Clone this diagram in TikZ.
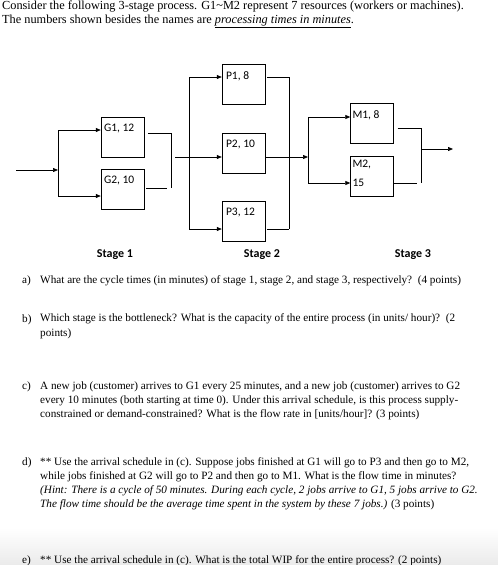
\documentclass[tikz,border=0pt]{standalone}
\usepackage{fontspec}
\setmainfont{Liberation Serif}
\newfontfamily\calibri{Carlito}
\usetikzlibrary{arrows.meta}

\begin{document}
\begin{tikzpicture}[x=1pt,y=-1pt]
	\tikzstyle{box}=[draw, minimum width=43pt, minimum height=40pt, inner sep=0pt]
	\tikzstyle{lbl}=[anchor=north west, inner sep=0pt, align=left, font=\calibri\fontsize{11.5}{19}\selectfont]
	\tikzstyle{stage}=[anchor=base, inner sep=0pt, font=\calibri\bfseries\fontsize{12}{14}\selectfont]
	\tikzstyle{wire}=[draw, line width=0.7pt]
	\tikzstyle{arr}=[wire, -{Triangle[length=5pt,width=4pt]}]
	% anchor base = baseline of the last line
	\tikzstyle{para}=[anchor=base west, inner sep=0pt, align=left, font=\fontsize{11.2}{14.3}\selectfont]
	\tikzstyle{qlbl}=[anchor=base west, inner sep=0pt, font=\fontsize{11.2}{14.3}\selectfont]
	
	\useasboundingbox (0,0) rectangle (498,565);
	\shade[top color=white, bottom color=black!8] (0,528) rectangle (498,565);
	
	% text
	\node[para, font=\fontsize{12.3}{14}\selectfont] (intro) at (2,23) {Consider the following 3-stage process. G1\textasciitilde M2 represent 7 resources (workers or machines).\\
		The numbers shown besides the names are \underline{\textit{processing times in minutes}}.};
	
	% resources
	\node[box] (g1) at (122.5,137) {};
	\node[box] (g2) at (122.5,189.5) {};
	\node[box] (p1) at (243.5,84) {};
	\node[box] (p2) at (243.5,153) {};
	\node[box] (p3) at (243.5,221.5) {};
	\node[box] (m1) at (372,123.5) {};
	\node[box] (m2) at (372,176) {};
	\node[lbl] (g1l) at ([shift={(3pt,-7pt)}]g1.north west) {G1, 12};
	\node[lbl] (g2l) at ([shift={(3pt,-7pt)}]g2.north west) {G2, 10};
	\node[lbl] (p1l) at ([shift={(4pt,-8pt)}]p1.north west) {P1, 8};
	\node[lbl] (p2l) at ([shift={(4pt,-7pt)}]p2.north west) {P2, 10};
	\node[lbl] (p3l) at ([shift={(4pt,-7pt)}]p3.north west) {P3, 12};
	\node[lbl] (m1l) at ([shift={(2pt,-7.5pt)}]m1.north west) {M1, 8};
	\node[lbl] (m2l) at ([shift={(2pt,-4pt)}]m2.north west) {M2,\\15};
	
	% stage 1
	\coordinate (in) at (16,170);
	\coordinate (j1) at (58,170);
	\draw[arr] (in) -- (j1);
	\draw[arr] (j1) |- ([yshift=7pt]g1.west);
	\draw[arr] (j1) |- ([yshift=-6.5pt]g2.west);
	\coordinate (c1) at (171,188);
	\coordinate (c1b) at (167,188);
	\draw[wire] ([shift={(4pt,4pt)}]g1.east) -| (c1);
	\draw[wire] ([shift={(2pt,1.5pt)}]g2.east) -- (c1b);
	
	% stage 2
	\coordinate (j2in) at (175,157);
	\coordinate (j2) at (189,157);
	\draw[arr] (j2in) -- ([yshift=-4pt]p2.west);
	\draw[arr] (j2) |- ([yshift=7pt]p1.west);
	\draw[arr] (j2) |- ([yshift=-7.5pt]p3.west);
	\coordinate (c2) at (289,229);
	\draw[wire] ([shift={(2pt,7pt)}]p1.east) -| (c2);
	\draw[wire] ([shift={(2pt,-7.5pt)}]p3.east) -- (c2);
	
	% stage 3
	\coordinate (j3) at (308,157);
	\draw[arr] ([yshift=-4pt]p2.east) -- (j3);
	\draw[arr] (j3) |- ([yshift=6.5pt]m1.west);
	\draw[arr] (j3) |- ([yshift=-7pt]m2.west);
	\coordinate (c3) at (421,183);
	\coordinate (c3b) at (417,183);
	\draw[wire] ([shift={(4pt,-4.5pt)}]m1.east) -| (c3);
	\draw[wire] ([yshift=-7pt]m2.east) -- (c3b);
	\coordinate (out0) at (421,149);
	\coordinate (out) at (453,149);
	\draw[arr] (out0) -- (out);
	
	\node[stage] (s1) at (115,257) {Stage 1};
	\node[stage] (s2) at (262,257) {Stage 2};
	\node[stage] (s3) at (413,257) {Stage 3};
	
	% questions
	\node[qlbl] (qam) at (22,283) {a)};
	\node[para] (qa) at (40,283) {What are the cycle times (in minutes) of stage 1, stage 2, and stage 3, respectively?~~(4 points)};
	\node[qlbl] (qbm) at (22,322) {b)};
	\node[para] (qb) at (40,336) {Which stage is the bottleneck? What is the capacity of the entire process (in units/ hour)?~~(2\\
		points)};
	\node[qlbl] (qcm) at (22,389) {c)};
	\node[para] (qc) at (40,417.6) {A new job (customer) arrives to G1 every 25 minutes, and a new job (customer) arrives to G2\\
		every 10 minutes (both starting at time 0). Under this arrival schedule, is this process supply-\\
		constrained or demand-constrained? What is the flow rate in [units/hour]? (3 points)};
	\node[qlbl] (qdm) at (22,465) {d)};
	\node[para] (qd) at (40,507.9) {** Use the arrival schedule in (c). Suppose jobs finished at G1 will go to P3 and then go to M2,\\
		while jobs finished at G2 will go to P2 and then go to M1. What is the flow time in minutes?\\
		\textit{(Hint: There is a cycle of 50 minutes. During each cycle, 2 jobs arrive to G1, 5 jobs arrive to G2.}\\
		\textit{The flow time should be the average time spent in the system by these 7 jobs.)} (3 points)};
	\node[qlbl] (qem) at (22,563) {e)};
	\node[para] (qe) at (40,563) {** Use the arrival schedule in (c). What is the total WIP for the entire process? (2 points)};
\end{tikzpicture}
\end{document}
